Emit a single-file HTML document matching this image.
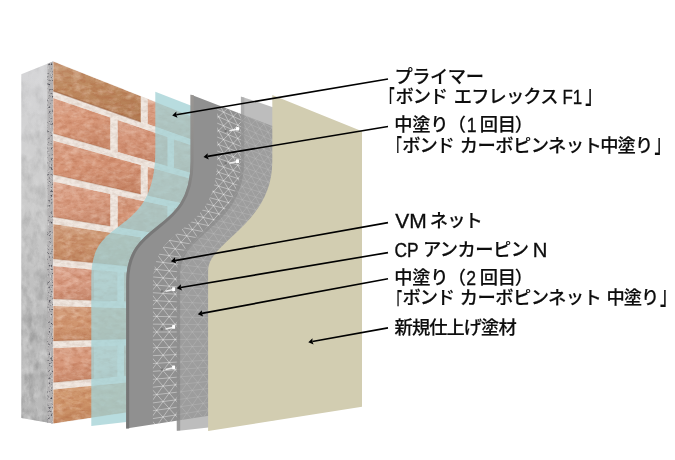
<!DOCTYPE html>
<html lang="ja">
<head>
<meta charset="utf-8">
<title>ボンド カーボピンネット工法</title>
<style>
html,body{margin:0;padding:0;background:#fff;}
body{width:675px;height:460px;overflow:hidden;}
svg{display:block;}
text{font-family:"Liberation Sans","Noto Sans CJK JP",sans-serif;font-size:18.3px;fill:#0d0d0d;stroke:#0d0d0d;stroke-width:0.15px;font-weight:500;white-space:pre;}
text.l{font-size:17.6px;stroke-width:0.3px;}
</style>
</head>
<body>
<svg width="675" height="460" viewBox="0 0 675 460">
<defs>
<linearGradient id="gconc" x1="0" y1="0" x2="0" y2="1">
<stop offset="0" stop-color="#d6d6d8"/><stop offset="0.35" stop-color="#cdcdcd"/><stop offset="0.7" stop-color="#bcbcbc"/><stop offset="1" stop-color="#b9b9b9"/>
</linearGradient>
<filter id="fconc" x="0" y="0" width="100%" height="100%" color-interpolation-filters="sRGB">
<feTurbulence type="fractalNoise" baseFrequency="0.11 0.07" numOctaves="5" seed="3" result="n"/>
<feColorMatrix in="n" type="matrix" values="0 0 0 0 0.42  0 0 0 0 0.42  0 0 0 0 0.42  1.0 0 0 0 -0.4"/>
<feComposite operator="in" in2="SourceGraphic"/>
</filter>
<filter id="fconc2" x="0" y="0" width="100%" height="100%" color-interpolation-filters="sRGB">
<feTurbulence type="fractalNoise" baseFrequency="0.13 0.08" numOctaves="4" seed="23" result="n"/>
<feColorMatrix in="n" type="matrix" values="0 0 0 0 1  0 0 0 0 1  0 0 0 0 1  0.8 0 0 0 -0.36"/>
<feComposite operator="in" in2="SourceGraphic"/>
</filter>
<filter id="fgrit" x="0" y="0" width="100%" height="100%" color-interpolation-filters="sRGB">
<feTurbulence type="fractalNoise" baseFrequency="0.55" numOctaves="2" seed="7" result="n"/>
<feColorMatrix in="n" type="matrix" values="0 0 0 0 0.3  0 0 0 0 0.3  0 0 0 0 0.33  4 0 0 0 -2.25"/>
<feComposite operator="in" in2="SourceGraphic"/>
</filter>
<filter id="fgrit2" x="0" y="0" width="100%" height="100%" color-interpolation-filters="sRGB">
<feTurbulence type="fractalNoise" baseFrequency="0.5" numOctaves="2" seed="19" result="n"/>
<feColorMatrix in="n" type="matrix" values="0 0 0 0 0.9  0 0 0 0 0.9  0 0 0 0 0.9  3 0 0 0 -1.75"/>
<feComposite operator="in" in2="SourceGraphic"/>
</filter>
<filter id="fmortar" x="0" y="0" width="100%" height="100%" color-interpolation-filters="sRGB">
<feTurbulence type="fractalNoise" baseFrequency="0.2 0.3" numOctaves="3" seed="5" result="n"/>
<feColorMatrix in="n" type="matrix" values="0 0 0 0 0.8  0 0 0 0 0.72  0 0 0 0 0.67  1.0 0 0 0 -0.36"/>
<feComposite operator="in" in2="SourceGraphic"/>
</filter>
<filter id="fbrickall" x="0" y="0" width="100%" height="100%" color-interpolation-filters="sRGB">
<feTurbulence type="fractalNoise" baseFrequency="0.14 0.24" numOctaves="5" seed="11" result="n1"/>
<feColorMatrix in="n1" type="matrix" values="0 0 0 0 0.66  0 0 0 0 0.34  0 0 0 0 0.2  0.8 0 0 0 -0.32" result="d1"/>
<feTurbulence type="fractalNoise" baseFrequency="0.11 0.2" numOctaves="5" seed="41" result="n2"/>
<feColorMatrix in="n2" type="matrix" values="0 0 0 0 1  0 0 0 0 0.93  0 0 0 0 0.88  0.7 0 0 0 -0.3" result="d2"/>
<feMerge result="m"><feMergeNode in="SourceGraphic"/><feMergeNode in="d1"/><feMergeNode in="d2"/></feMerge>
<feComposite in="m" in2="SourceGraphic" operator="in" result="c"/>
<feGaussianBlur in="c" stdDeviation="0.7"/>
</filter>
<linearGradient id="gshade" x1="0" y1="0" x2="0.25" y2="1">
<stop offset="0" stop-color="#fff" stop-opacity="0.16"/><stop offset="0.45" stop-color="#fff" stop-opacity="0"/><stop offset="0.55" stop-color="#7a3a18" stop-opacity="0"/><stop offset="1" stop-color="#7a3a18" stop-opacity="0.14"/>
</linearGradient>
<linearGradient id="gedge" gradientUnits="userSpaceOnUse" x1="0" y1="94" x2="0" y2="429">
<stop offset="0" stop-color="#9a9794"/><stop offset="0.2" stop-color="#8a8988"/><stop offset="0.4" stop-color="#787878"/><stop offset="1" stop-color="#757575"/>
</linearGradient>
<linearGradient id="gedge2" gradientUnits="userSpaceOnUse" x1="0" y1="96" x2="0" y2="431">
<stop offset="0" stop-color="#8c8c8c" stop-opacity="0.25"/><stop offset="0.12" stop-color="#848484" stop-opacity="0.45"/><stop offset="1" stop-color="#7e7e7e" stop-opacity="0.55"/>
</linearGradient>
<linearGradient id="gmask" x1="0" y1="0" x2="0" y2="1">
<stop offset="0" stop-color="#fff" stop-opacity="0.25"/><stop offset="0.5" stop-color="#fff" stop-opacity="0.6"/><stop offset="1" stop-color="#fff" stop-opacity="1"/>
</linearGradient>
<mask id="mconc" maskUnits="userSpaceOnUse" x="0" y="0" width="675" height="460"><rect x="0" y="60" width="60" height="365" fill="url(#gmask)"/></mask>
<clipPath id="cbrick"><polygon points="53.2,61 200,119.3 200,401.8 53.2,424"/></clipPath>
</defs>
<polygon points="21.3,74.3 53,61.6 53,423.5 21.3,418" fill="url(#gconc)"/>
<g mask="url(#mconc)"><polygon points="21.3,74.3 53,61.6 53,423.5 21.3,418" fill="#000" filter="url(#fconc)"/>
<polygon points="21.3,74.3 53,61.6 53,423.5 21.3,418" fill="#fff" filter="url(#fconc2)"/></g>
<polygon points="47.5,63.8 53.3,61.3 53.3,423.6 47.5,422.6" fill="#b3b1b2"/>
<polygon points="47.5,63.8 53.3,61.3 53.3,423.6 47.5,422.6" fill="#000" filter="url(#fgrit)"/>
<polygon points="47.5,63.8 53.3,61.3 53.3,423.6 47.5,422.6" fill="#fff" filter="url(#fgrit2)"/>
<g clip-path="url(#cbrick)">
<polygon points="53.2,61 200,119.3 200,401.8 53.2,424" fill="#f1e8e1"/>
<polygon points="53.2,61 200,119.3 200,401.8 53.2,424" fill="#b89c8c" filter="url(#fmortar)"/>
<g filter="url(#fbrickall)">
<polygon points="53.2,61.6 140.8,96.3 140.8,121.8 53.2,90.9" fill="#bd895f"/>
<polygon points="53.2,61.6 140.8,96.3 140.8,121.8 53.2,90.9" fill="url(#gshade)"/>
<polygon points="147.6,99 200,119.8 200,142.6 147.6,124.1" fill="#d8997c"/>
<polygon points="147.6,99 200,119.8 200,142.6 147.6,124.1" fill="url(#gshade)"/>
<polygon points="53.2,98.1 110.4,117.6 110.4,149.9 53.2,133.4" fill="#d8997b"/>
<polygon points="53.2,98.1 110.4,117.6 110.4,149.9 53.2,133.4" fill="url(#gshade)"/>
<polygon points="117.6,120.1 167.6,137.1 167.6,166.3 117.6,151.9" fill="#d5967a"/>
<polygon points="117.6,120.1 167.6,137.1 167.6,166.3 117.6,151.9" fill="url(#gshade)"/>
<polygon points="173.8,139.3 200,148.2 200,175.7 173.8,168.1" fill="#d8997b"/>
<polygon points="173.8,139.3 200,148.2 200,175.7 173.8,168.1" fill="url(#gshade)"/>
<polygon points="53.2,140.6 140.8,164.9 140.8,194.2 53.2,174.4" fill="#d59476"/>
<polygon points="53.2,140.6 140.8,164.9 140.8,194.2 53.2,174.4" fill="url(#gshade)"/>
<polygon points="147.6,166.8 200,181.3 200,207.6 147.6,195.7" fill="#d6987b"/>
<polygon points="147.6,166.8 200,181.3 200,207.6 147.6,195.7" fill="url(#gshade)"/>
<polygon points="53.2,181.6 110.4,193.9 110.4,226.2 53.2,216.9" fill="#d99d82"/>
<polygon points="53.2,181.6 110.4,193.9 110.4,226.2 53.2,216.9" fill="url(#gshade)"/>
<polygon points="117.6,195.5 167.6,206.2 167.6,235.4 117.6,227.3" fill="#d29274"/>
<polygon points="117.6,195.5 167.6,206.2 167.6,235.4 117.6,227.3" fill="url(#gshade)"/>
<polygon points="173.8,207.5 200,213.2 200,240.7 173.8,236.4" fill="#d99d82"/>
<polygon points="173.8,207.5 200,213.2 200,240.7 173.8,236.4" fill="url(#gshade)"/>
<polygon points="53.2,224.1 140.8,237.3 140.8,267.5 53.2,258.9" fill="#c9926c"/>
<polygon points="53.2,224.1 140.8,237.3 140.8,267.5 53.2,258.9" fill="url(#gshade)"/>
<polygon points="147.6,238.3 200,246.3 200,273.3 147.6,268.2" fill="#d5967a"/>
<polygon points="147.6,238.3 200,246.3 200,273.3 147.6,268.2" fill="url(#gshade)"/>
<polygon points="53.2,266.1 94,269.7 94,300.4 53.2,298.9" fill="#d99d84"/>
<polygon points="53.2,266.1 94,269.7 94,300.4 53.2,298.9" fill="url(#gshade)"/>
<polygon points="94,269.7 117.5,271.7 117.5,301.3 94,300.4" fill="#e6c9ba"/>
<polygon points="94,269.7 117.5,271.7 117.5,301.3 94,300.4" fill="url(#gshade)"/>
<polygon points="124,272.3 200,278.9 200,304.5 124,301.6" fill="#d39476"/>
<polygon points="124,272.3 200,278.9 200,304.5 124,301.6" fill="url(#gshade)"/>
<polygon points="53.2,306.1 140.8,308.5 140.8,338.7 53.2,340.9" fill="#d09670"/>
<polygon points="53.2,306.1 140.8,308.5 140.8,338.7 53.2,340.9" fill="url(#gshade)"/>
<polygon points="147.6,308.7 200,310.1 200,337.2 147.6,338.5" fill="#d5967a"/>
<polygon points="147.6,308.7 200,310.1 200,337.2 147.6,338.5" fill="url(#gshade)"/>
<polygon points="53.2,348.1 94,346.6 94,378.8 53.2,382.4" fill="#d7997c"/>
<polygon points="53.2,348.1 94,346.6 94,378.8 53.2,382.4" fill="url(#gshade)"/>
<polygon points="94,346.6 117.5,345.8 117.5,376.7 94,378.8" fill="#e6c9ba"/>
<polygon points="94,346.6 117.5,345.8 117.5,376.7 94,378.8" fill="url(#gshade)"/>
<polygon points="124,345.5 200,342.8 200,369.4 124,376.2" fill="#d39476"/>
<polygon points="124,345.5 200,342.8 200,369.4 124,376.2" fill="url(#gshade)"/>
<polygon points="53.2,389.6 140.8,380.9 140.8,410.2 53.2,423.4" fill="#ce956a"/>
<polygon points="53.2,389.6 140.8,380.9 140.8,410.2 53.2,423.4" fill="url(#gshade)"/>
<polygon points="147.6,380.2 200,375 200,401.4 147.6,409.2" fill="#d5967a"/>
<polygon points="147.6,380.2 200,375 200,401.4 147.6,409.2" fill="url(#gshade)"/>
</g>
<path d="M53.2,90.9 L140.8,121.8" stroke="#8f5230" stroke-opacity="0.55" stroke-width="1.3" fill="none"/>
<path d="M53.2,133.4 L110.4,149.9" stroke="#8f5230" stroke-opacity="0.22" stroke-width="1.3" fill="none"/>
<path d="M53.2,174.4 L140.8,194.2" stroke="#8f5230" stroke-opacity="0.22" stroke-width="1.3" fill="none"/>
<path d="M53.2,216.9 L110.4,226.2" stroke="#8f5230" stroke-opacity="0.22" stroke-width="1.3" fill="none"/>
<path d="M53.2,258.9 L140.8,267.5" stroke="#8f5230" stroke-opacity="0.22" stroke-width="1.3" fill="none"/>
<path d="M53.2,298.9 L110.4,301.1" stroke="#8f5230" stroke-opacity="0.22" stroke-width="1.3" fill="none"/>
<path d="M53.2,340.9 L140.8,338.7" stroke="#8f5230" stroke-opacity="0.22" stroke-width="1.3" fill="none"/>
<path d="M53.2,382.4 L110.4,377.4" stroke="#8f5230" stroke-opacity="0.22" stroke-width="1.3" fill="none"/>
</g>
<path d="M155.3,91.7 L155.3,150.5 C155.3,239.8 91.3,212.4 91.3,276.8 L91.3,426 L192,414.5 L192,106 Z" fill="#a3d1d6" fill-opacity="0.77"/>
<path d="M190.6,94.4 L190.6,161.5 C190.6,236.5 126.2,218.2 126.2,281.8 L126.2,428.6 L275,405.5 L275,127 Z" fill="#909090"/>
<path d="M192.1,95 L192.1,161.5 C192.1,236.5 127.7,218.2 127.7,281.8 L127.7,428.4" fill="none" stroke="url(#gedge)" stroke-width="3"/>
<clipPath id="cmesh"><path d="M217.2,105.3 L217.2,158 C217.2,240 152.9,218 152.9,284 L152.9,424.4 L275,405 L275,127 Z"/></clipPath>
<g clip-path="url(#cmesh)"><path d="M121.8,32.8L288.4,117.7M121.8,41.1L288.4,123.6M121.8,49.4L288.4,129.6M121.8,57.7L288.4,135.5M121.8,66L288.4,141.5M121.8,74.4L288.4,147.4M121.8,82.7L288.4,153.3M121.8,91L288.4,159.3M121.8,99.3L288.4,165.2M121.8,107.6L288.4,171.2M121.8,115.9L288.4,177.1M121.8,124.3L288.4,183M121.8,132.6L288.4,189M121.8,140.9L288.4,194.9M121.8,149.2L288.4,200.9M121.8,157.5L288.4,206.8M121.8,165.8L288.4,212.7M121.8,174.2L288.4,218.7M121.8,182.5L288.4,224.6M121.8,190.8L288.4,230.6M121.8,199.1L288.4,236.5M121.8,207.4L288.4,242.4M121.8,215.7L288.4,248.4M121.8,224.1L288.4,254.3M121.8,232.4L288.4,260.3M121.8,240.7L288.4,266.2M121.8,249L288.4,272.1M121.8,257.3L288.4,278.1M121.8,265.6L288.4,284M121.8,273.9L288.4,290M121.8,282.3L288.4,295.9M121.8,290.6L288.4,301.8M121.8,298.9L288.4,307.8M121.8,307.2L288.4,313.7M121.8,315.5L288.4,319.7M121.8,323.8L288.4,325.6M121.8,332.2L288.4,331.5M121.8,340.5L288.4,337.5M121.8,348.8L288.4,343.4M121.8,357.1L288.4,349.4M121.8,365.4L288.4,355.3M121.8,373.7L288.4,361.2M121.8,382.1L288.4,367.2M121.8,390.4L288.4,373.1M121.8,398.7L288.4,379.1M121.8,407L288.4,385M121.8,415.3L288.4,390.9M121.8,423.6L288.4,396.9M121.8,432L288.4,402.8M121.8,440.3L288.4,408.8M121.8,448.6L288.4,414.7M121.8,456.9L288.4,420.6M121.8,465.2L288.4,426.6M-4881.2,-2516.9L-78.9,511.7M-4881.2,1625.2L-78.9,-69.5M-3815.9,-1974L-53.8,505.9M-3815.9,1378.2L-53.8,-56.7M-3091.9,-1605L-30.2,500.5M-3091.9,1210.3L-30.2,-44.7M-2567.7,-1337.9L-8.1,495.3M-2567.7,1088.8L-8.1,-33.4M-2170.7,-1135.6L12.7,490.5M-2170.7,996.7L12.7,-22.8M-1859.6,-977L32.3,486M-1859.6,924.6L32.3,-12.8M-1609.3,-849.4L50.9,481.7M-1609.3,866.6L50.9,-3.4M-1403.5,-744.5L68.5,477.6M-1403.5,818.9L68.5,5.6M-1231.3,-656.8L85.1,473.7M-1231.3,778.9L85.1,14.1M-1085.1,-582.3L100.9,470.1M-1085.1,745L100.9,22.1M-959.4,-518.2L115.9,466.6M-959.4,715.9L115.9,29.8M-850.2,-462.6L130.2,463.3M-850.2,690.6L130.2,37.1M-754.5,-413.8L143.8,460.1M-754.5,668.4L143.8,44M-669.8,-370.7L156.8,457.1M-669.8,648.8L156.8,50.6M-594.5,-332.2L169.2,454.2M-594.5,631.3L169.2,56.9M-526.9,-297.8L181,451.5M-526.9,615.6L181,63M-466.1,-266.8L192.3,448.9M-466.1,601.5L192.3,68.7M-411,-238.7L203.2,446.3M-411,588.7L203.2,74.3M-360.8,-213.2L213.6,443.9M-360.8,577.1L213.6,79.6M-314.9,-189.8L223.6,441.6M-314.9,566.5L223.6,84.7M-272.9,-168.4L233.2,439.4M-272.9,556.7L233.2,89.5M-234.1,-148.6L242.4,437.3M-234.1,547.7L242.4,94.2M-198.3,-130.4L251.2,435.2M-198.3,539.4L251.2,98.7M-165.2,-113.5L259.7,433.2M-165.2,531.8L259.7,103.1M-134.4,-97.8L267.9,431.3M-134.4,524.6L267.9,107.3M-105.7,-83.1L275.9,429.5M-105.7,518L275.9,111.3M-78.9,-69.5L283.5,427.7M-78.9,511.7L283.5,115.2M-53.8,-56.7L290.9,426M-53.8,505.9L290.9,118.9M-30.2,-44.7L298,424.4M-30.2,500.5L298,122.6M-8.1,-33.4L304.8,422.8M-8.1,495.3L304.8,126.1M12.7,-22.8L311.5,421.2M12.7,490.5L311.5,129.4M32.3,-12.8L317.9,419.7M32.3,486L317.9,132.7M50.9,-3.4L324.1,418.3M50.9,481.7L324.1,135.9M68.5,5.6L330.1,416.9M68.5,477.6L330.1,139M85.1,14.1L336,415.6M85.1,473.7L336,141.9M100.9,22.1L341.6,414.2M100.9,470.1L341.6,144.8M115.9,29.8L347.1,413M115.9,466.6L347.1,147.6M130.2,37.1L352.4,411.7M130.2,463.3L352.4,150.3M143.8,44L357.6,410.5M143.8,460.1L357.6,153M156.8,50.6L362.6,409.4M156.8,457.1L362.6,155.5M169.2,56.9L367.5,408.2M169.2,454.2L367.5,158M181,63L372.2,407.2M181,451.5L372.2,160.4M192.3,68.7L376.8,406.1M192.3,448.9L376.8,162.8M203.2,74.3L381.3,405M203.2,446.3L381.3,165M213.6,79.6L385.7,404M213.6,443.9L385.7,167.3M223.6,84.7L389.9,403.1M223.6,441.6L389.9,169.4M233.2,89.5L394.1,402.1M233.2,439.4L394.1,171.5M242.4,94.2L398.1,401.2M242.4,437.3L398.1,173.6M251.2,98.7L402,400.2M251.2,435.2L402,175.6M259.7,103.1L405.8,399.4M259.7,433.2L405.8,177.5M267.9,107.3L409.6,398.5M267.9,431.3L409.6,179.4M275.9,111.3L413.2,397.7M275.9,429.5L413.2,181.3M283.5,115.2L416.7,396.8M283.5,427.7L416.7,183.1M290.9,118.9L420.2,396M290.9,426L420.2,184.9M298,122.6L423.6,395.2M298,424.4L423.6,186.6M304.8,126.1L426.9,394.5M304.8,422.8L426.9,188.3M311.5,129.4L430.1,393.7M311.5,421.2L430.1,189.9M317.9,132.7L433.3,393M317.9,419.7L433.3,191.5M324.1,135.9L436.3,392.3M324.1,418.3L436.3,193.1M330.1,139L439.4,391.6M330.1,416.9L439.4,194.6M336,141.9L442.3,390.9M336,415.6L442.3,196.1M341.6,144.8L445.2,390.2M341.6,414.2L445.2,197.6M347.1,147.6L448,389.6M347.1,413L448,199M352.4,150.3L450.7,388.9M352.4,411.7L450.7,200.4M357.6,153L453.4,388.3M357.6,410.5L453.4,201.8M362.6,155.5L456.1,387.7M362.6,409.4L456.1,203.1M367.5,158L458.7,387.1M367.5,408.2L458.7,204.5M372.2,160.4L461.2,386.5M372.2,407.2L461.2,205.8M376.8,162.8L463.7,385.9M376.8,406.1L463.7,207M381.3,165L466.1,385.4M381.3,405L466.1,208.3M385.7,167.3L468.5,384.8M385.7,404L468.5,209.5M389.9,169.4L470.8,384.3M389.9,403.1L470.8,210.7M394.1,171.5L473.1,383.8M394.1,402.1L473.1,211.8M398.1,173.6L475.4,383.2M398.1,401.2L475.4,213M402,175.6L477.6,382.7M402,400.2L477.6,214.1M405.8,177.5L479.7,382.2M405.8,399.4L479.7,215.2M409.6,179.4L481.9,381.7M409.6,398.5L481.9,216.3M413.2,181.3L483.9,381.3M413.2,397.7L483.9,217.3M416.7,183.1L486,380.8M416.7,396.8L486,218.4M420.2,184.9L488,380.3M420.2,396L488,219.4" stroke="#fff" stroke-width="0.7" fill="none" opacity="0.56"/></g>
<g transform="translate(239,128.8)"><path d="M-9.6,2 L-2.6,0.5" stroke="#ececec" stroke-width="1.5" fill="none"/><rect x="-3" y="-1.9" width="3" height="3.7" rx="0.6" fill="#fff"/><rect x="-14.4" y="1.1" width="2.2" height="2.2" fill="#747474"/></g>
<g transform="translate(239,161.2)"><path d="M-9.6,2 L-2.6,0.5" stroke="#ececec" stroke-width="1.5" fill="none"/><rect x="-3" y="-1.9" width="3" height="3.7" rx="0.6" fill="#fff"/><rect x="-14.4" y="1.1" width="2.2" height="2.2" fill="#747474"/></g>
<g transform="translate(175.1,289.2)"><path d="M-9.6,2 L-2.6,0.5" stroke="#ececec" stroke-width="1.5" fill="none"/><rect x="-3" y="-1.9" width="3" height="3.7" rx="0.6" fill="#fff"/><rect x="-14.4" y="1.1" width="2.2" height="2.2" fill="#747474"/></g>
<g transform="translate(175.1,327)"><path d="M-9.6,2 L-2.6,0.5" stroke="#ececec" stroke-width="1.5" fill="none"/><rect x="-3" y="-1.9" width="3" height="3.7" rx="0.6" fill="#fff"/><rect x="-14.4" y="1.1" width="2.2" height="2.2" fill="#747474"/></g>
<g transform="translate(175.1,367.4)"><path d="M-9.6,2 L-2.6,0.5" stroke="#ececec" stroke-width="1.5" fill="none"/><rect x="-3" y="-1.9" width="3" height="3.7" rx="0.6" fill="#fff"/><rect x="-14.4" y="1.1" width="2.2" height="2.2" fill="#747474"/></g>
<path d="M240.9,96.4 L240.9,161.1 C240.9,227.7 176.8,230.2 176.8,274.1 L176.8,431 L275,420 L275,108 Z" fill="#a2a2a2" fill-opacity="0.71"/>
<path d="M242.6,97 L242.6,161.1 C242.6,227.7 178.5,230.2 178.5,274.1 L178.5,430.6" fill="none" stroke="url(#gedge2)" stroke-width="3.4"/>
<path d="M272.3,95 L272.3,161.7 C272.3,224.7 208.1,241.7 208.1,270.6 L208.1,431 L362,406.8 L362,131.3 Z" fill="#d2cdb1"/>
<line x1="176.3" y1="114.7" x2="388" y2="79" stroke="#000" stroke-width="1.6"/><polygon points="172.2,115.4 176.4,111.4 176.3,114.7 177.5,117.8" fill="#000"/>
<line x1="207.6" y1="156.4" x2="388" y2="126.5" stroke="#000" stroke-width="1.6"/><polygon points="203.5,157.1 207.7,153.2 207.6,156.4 208.8,159.5" fill="#000"/>
<line x1="175" y1="260.6" x2="388" y2="222.6" stroke="#000" stroke-width="1.6"/><polygon points="170.9,261.3 175.1,257.3 175,260.6 176.2,263.6" fill="#000"/>
<line x1="180.8" y1="287.5" x2="388" y2="252.6" stroke="#000" stroke-width="1.6"/><polygon points="176.7,288.2 180.9,284.2 180.8,287.5 182,290.6" fill="#000"/>
<line x1="201.9" y1="313.4" x2="388" y2="278.7" stroke="#000" stroke-width="1.6"/><polygon points="197.8,314.2 201.9,310.2 201.9,313.4 203.1,316.5" fill="#000"/>
<line x1="312.4" y1="341.5" x2="388" y2="327.9" stroke="#000" stroke-width="1.6"/><polygon points="308.3,342.2 312.5,338.2 312.4,341.5 313.6,344.5" fill="#000"/>
<g id="labels" opacity="0.999">
<g>
<text letter-spacing="-0.48" x="394.46" y="82.60">プライマー</text>
</g>
<g>
<text transform="translate(381.21,109.04) scale(0.732,1.345)">「</text>
<text letter-spacing="-1.2" x="395.56" y="102.80">ボンド </text>
<text letter-spacing="-0.91" x="453.86" y="102.80">エフレックス </text>
<text class="l" transform="translate(562.56,103.70) scale(0.960,1.150)">F1</text>
<text transform="translate(585.26,102.53) scale(0.868,1.396)">」</text>
</g>
<g>
<text letter-spacing="-0.3" x="394.36" y="131.20">中塗り</text>
<text x="447.86" y="131.20">（</text>
<text class="l" transform="translate(466.73,132.10) scale(1.000,1.150)">1 </text>
<text letter-spacing="-0.08" x="479.65" y="131.20">回目</text>
<text x="514.83" y="131.20">）</text>
</g>
<g>
<text transform="translate(388.51,158.21) scale(0.732,1.336)">「</text>
<text letter-spacing="-1.2" x="402.36" y="152.00">ボンド </text>
<text letter-spacing="-0.58" x="459.85" y="152.00">カーボピンネット</text>
<text letter-spacing="-0.9" x="600.19" y="152.00">中塗り</text>
<text transform="translate(654.48,151.75) scale(0.834,1.387)">」</text>
</g>
<g>
<text class="l" transform="translate(395.15,228.10) scale(1.194,1.150)">VM </text>
<text letter-spacing="-0.9" x="429.79" y="227.20">ネット</text>
</g>
<g>
<text class="l" transform="translate(394.44,256.70) scale(0.986,1.150)">CP </text>
<text letter-spacing="-0.57" x="422.90" y="255.80">アンカーピン </text>
<text class="l" transform="translate(532.67,256.70) scale(1.150,1.150)">N</text>
</g>
<g>
<text letter-spacing="-0.3" x="394.36" y="283.70">中塗り</text>
<text x="447.86" y="283.70">（</text>
<text class="l" transform="translate(466.32,284.60) scale(1.000,1.150)">2 </text>
<text letter-spacing="-0.08" x="479.65" y="283.70">回目</text>
<text x="514.83" y="283.70">）</text>
</g>
<g>
<text transform="translate(389.11,310.58) scale(0.715,1.328)">「</text>
<text letter-spacing="-1.2" x="402.56" y="304.30">ボンド </text>
<text letter-spacing="-0.58" x="459.85" y="304.30">カーボピンネット </text>
<text letter-spacing="-1.05" x="606.56" y="304.30">中塗り</text>
<text transform="translate(660.06,304.16) scale(0.868,1.379)">」</text>
</g>
<g>
<text letter-spacing="-0.98" x="394.61" y="334.20">新規仕上げ塗材</text>
</g>
</g>
</svg>
</body>
</html>
